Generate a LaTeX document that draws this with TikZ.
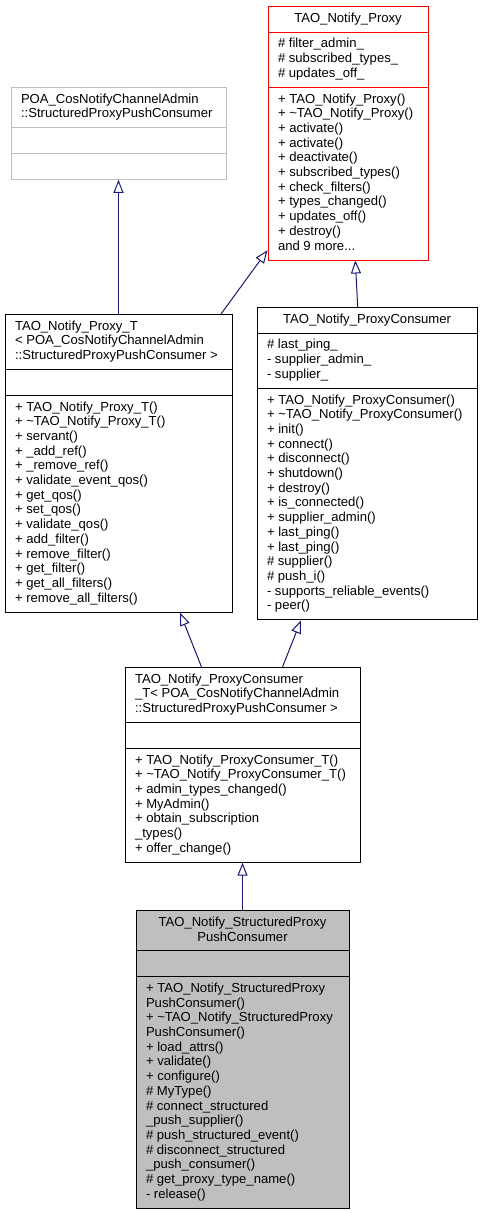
\documentclass[tikz,border=0pt]{standalone}
\usepackage{fontspec}
\setmainfont{Liberation Sans}
\usetikzlibrary{shapes.multipart,arrows.meta,positioning}
\definecolor{edgeblue}{RGB}{25,25,112}
\definecolor{basegray}{RGB}{191,191,191}
\newcommand{\umlfont}{\fontsize{13.1}{14.7}\selectfont}
\tikzset{every node/.style={align=left}, >={Triangle[open,length=13pt,width=10pt]}, font=\umlfont}
\tikzset{
  classbox/.style={rectangle split, rectangle split parts=3, draw, line width=1pt,
    inner xsep=10pt, inner ysep=5pt, rectangle split part align=left},
  titlemid/.style={rectangle split part align={center,left,left}},
  derive/.style={->, color=edgeblue, line width=1pt}
}

\begin{document}
\begin{tikzpicture}[x=1pt, y=-1pt]
  \useasboundingbox (0,0) rectangle (481,1213);
  \node [classbox, titlemid, draw=red, minimum width=160pt, anchor=north] (proxy) at (348,6)
    {\strut TAO\_Notify\_Proxy
     \nodepart{second}\strut\# filter\_admin\_\\\# subscribed\_types\_\\\# updates\_off\_\strut
     \nodepart{third}\strut+ TAO\_Notify\_Proxy()\\+ \textasciitilde TAO\_Notify\_Proxy()\\+ activate()\\+ activate()\\+ deactivate()\\+ subscribed\_types()\\+ check\_filters()\\+ types\_changed()\\+ updates\_off()\\+ destroy()\\and 9 more...\strut};
  \node [classbox, draw=basegray, minimum width=215pt, anchor=north] (poa) at (118.5,87)
    {\strut POA\_CosNotifyChannelAdmin\\::StructuredProxyPushConsumer\strut
     \nodepart{second}\strut
     \nodepart{third}\strut};
  \node [classbox, minimum width=227pt, anchor=north] (ptT) at (118.5,314)
    {\strut TAO\_Notify\_Proxy\_T\\< POA\_CosNotifyChannelAdmin\\::StructuredProxyPushConsumer >\strut
     \nodepart{second}\strut
     \nodepart{third}\strut+ TAO\_Notify\_Proxy\_T()\\+ \textasciitilde TAO\_Notify\_Proxy\_T()\\+ servant()\\+ \_add\_ref()\\+ \_remove\_ref()\\+ validate\_event\_qos()\\+ get\_qos()\\+ set\_qos()\\+ validate\_qos()\\+ add\_filter()\\+ remove\_filter()\\+ get\_filter()\\+ get\_all\_filters()\\+ remove\_all\_filters()\strut};
  \node [classbox, titlemid, minimum width=220pt, right=24pt of ptT.north east, anchor=north west, yshift=7pt] (pc)
    {\strut TAO\_Notify\_ProxyConsumer
     \nodepart{second}\strut\# last\_ping\_\\- supplier\_admin\_\\- supplier\_\strut
     \nodepart{third}\strut+ TAO\_Notify\_ProxyConsumer()\\+ \textasciitilde TAO\_Notify\_ProxyConsumer()\\+ init()\\+ connect()\\+ disconnect()\\+ shutdown()\\+ destroy()\\+ is\_connected()\\+ supplier\_admin()\\+ last\_ping()\\+ last\_ping()\\\# supplier()\\\# push\_i()\\- supports\_reliable\_events()\\- peer()\strut};
  \node [classbox, minimum width=235pt, anchor=north] (pcT) at (242.5,667)
    {\strut TAO\_Notify\_ProxyConsumer\\\_T< POA\_CosNotifyChannelAdmin\\::StructuredProxyPushConsumer >\strut
     \nodepart{second}\strut
     \nodepart{third}\strut+ TAO\_Notify\_ProxyConsumer\_T()\\+ \textasciitilde TAO\_Notify\_ProxyConsumer\_T()\\+ admin\_types\_changed()\\+ MyAdmin()\\+ obtain\_subscription\\\_types()\\+ offer\_change()\strut};
  \node [classbox, titlemid, fill=basegray, minimum width=213pt, anchor=north] (sppc) at (242.5,910)
    {\begin{tabular}{@{}c@{}}TAO\_Notify\_StructuredProxy\\PushConsumer\end{tabular}
     \nodepart{second}\strut
     \nodepart{third}\strut+ TAO\_Notify\_StructuredProxy\\PushConsumer()\\+ \textasciitilde TAO\_Notify\_StructuredProxy\\PushConsumer()\\+ load\_attrs()\\+ validate()\\+ configure()\\\# MyType()\\\# connect\_structured\\\_push\_supplier()\\\# push\_structured\_event()\\\# disconnect\_structured\\\_push\_consumer()\\\# get\_proxy\_type\_name()\\- release()\strut};
  \path[derive] (ptT.north) edge (poa.south)
    ([xshift=102.5pt]ptT.north) edge ([yshift=-117pt]proxy.west)
    ([xshift=-9.3pt]pc.north) edge ([xshift=7.3pt]proxy.south)
    ([xshift=-41pt]pcT.north) edge ([xshift=61.5pt]ptT.south)
    ([xshift=40pt]pcT.north) edge ([xshift=-66pt]pc.south)
    (sppc) edge (pcT);
\end{tikzpicture}
\end{document}
